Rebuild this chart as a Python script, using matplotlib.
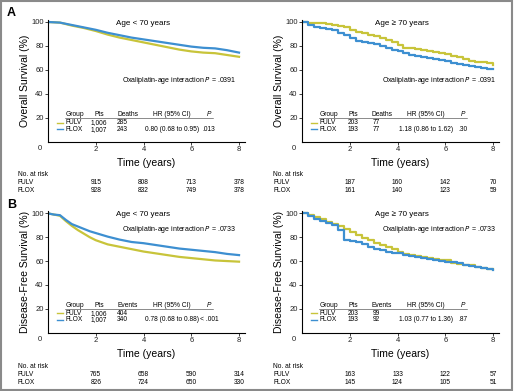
import matplotlib
matplotlib.use("Agg")
import matplotlib.pyplot as plt
from matplotlib.patches import Rectangle
import matplotlib.transforms as mtransforms

plt.rcParams['font.family'] = ['Liberation Sans Narrow', 'Liberation Sans', 'DejaVu Sans']

# ---- data ----
# A, age < 70 : overall survival
t_a1 = [0, 0.5, 1.0, 1.5, 2.0, 2.5, 3.0, 3.5, 4.0, 4.5, 5.0, 5.5, 6.0, 6.5, 7.0, 7.5, 8.0]
fulv_a1 = [100, 99.5, 97, 95, 92.5, 89.5, 87, 85, 83, 81, 79, 77, 75.5, 74.5, 74, 72.5, 71]
flox_a1 = [100, 99.5, 97.5, 95.5, 93.5, 91, 89, 87, 85.5, 84, 82.5, 81, 79.5, 78.5, 78, 76.5, 74.5]

# A, age >= 70 : overall survival
t_a2 = [0, 0.25, 0.5, 0.75, 1.0, 1.25, 1.5, 1.75, 2.0, 2.25, 2.5, 2.75, 3.0, 3.25, 3.5, 3.75,
        4.0, 4.25, 4.5, 4.75, 5.0, 5.25, 5.5, 5.75, 6.0, 6.25, 6.5, 6.75, 7.0, 7.25, 7.5, 7.75, 8.0]
fulv_a2 = [100, 99.5, 99.5, 99, 98.5, 97.5, 97, 95.5, 93.5, 92, 90.5, 89, 88, 87, 85, 83,
           80.5, 78.5, 78, 77.5, 77, 76, 75, 74, 73, 71.5, 70.5, 69, 67.5, 67, 66.5, 65.5, 64.5]
flox_a2 = [100, 97.5, 96, 95, 94.5, 93, 91, 89, 86.5, 84.5, 83.5, 82.5, 81.5, 80, 78.5, 77,
           75.5, 74, 72.5, 72, 71, 70, 69.5, 68.5, 67.5, 66, 65, 64.5, 63.5, 62.5, 61.5, 61, 60.5]

# B, age < 70 : disease-free survival
t_b1 = [0, 0.25, 0.5, 0.75, 1.0, 1.25, 1.5, 1.75, 2.0, 2.5, 3.0, 3.5, 4.0, 4.5, 5.0, 5.5, 6.0, 6.5, 7.0, 7.5, 8.0]
fulv_b1 = [100, 99, 98, 93.5, 89.5, 86, 83, 80, 77.5, 74, 72, 70, 68, 66.5, 65, 63.5, 62.5, 61.5, 60.5, 60, 59.5]
flox_b1 = [100, 99, 98.5, 94.5, 91, 89, 87, 85, 83.5, 80.5, 78, 76, 75, 73.5, 72, 70.5, 69.5, 68.5, 67.5, 66, 65]

# B, age >= 70 : disease-free survival
t_b2 = t_a2
fulv_b2 = [100, 98.5, 97, 95, 93, 91, 89, 87, 84.5, 82, 79.5, 77.5, 75.5, 73.5, 72, 70,
           68, 66, 65, 64, 63, 62.5, 61.5, 61, 60.5, 58.5, 57.5, 57, 56.5, 55, 54, 53.5, 53]
flox_b2 = [100, 97.5, 95.5, 94, 92, 90, 86, 78, 77, 76, 74, 72, 70, 69, 67.5, 67,
           66.5, 65.5, 64.5, 63.5, 62.5, 61.5, 60.5, 60, 59.5, 59, 58, 57, 56, 55, 54, 53, 52.5]

groups = ['FULV', 'FLOX']
pts = [['1,006', '1,007'], ['203', '193'], ['1,006', '1,007'], ['203', '193']]
events = [['285', '243'], ['77', '77'], ['404', '340'], ['99', '92']]
event_name = ['Deaths', 'Deaths', 'Events', 'Events']
hr = ['0.80 (0.68 to 0.95)', '1.18 (0.86 to 1.62)', '0.78 (0.68 to 0.88)', '1.03 (0.77 to 1.36)']
pval = ['.013', '.30', '< .001', '.87']
interaction = ['.0391', '.0391', '.0733', '.0733']
age_title = ['Age < 70 years', 'Age \u2265 70 years', 'Age < 70 years', 'Age \u2265 70 years']
ylabels = ['Overall Survival (%)', 'Overall Survival (%)',
           'Disease-Free Survival (%)', 'Disease-Free Survival (%)']
risk_times = [2, 4, 6, 8]
risk_fulv = [[915, 808, 713, 378], [187, 160, 142, 70], [765, 658, 590, 314], [163, 133, 122, 57]]
risk_flox = [[928, 832, 749, 378], [161, 140, 123, 59], [826, 724, 650, 330], [145, 124, 105, 51]]

curves = [(t_a1, fulv_a1, flox_a1, False), (t_a2, fulv_a2, flox_a2, True),
          (t_b1, fulv_b1, flox_b1, False), (t_b2, fulv_b2, flox_b2, True)]

c_fulv = '#c8c43a'
c_flox = '#3d8fd1'

W, H = 514, 391
fig = plt.figure(figsize=(W / 100, H / 100), dpi=100)

# axes boxes in pixels: left, x-axis y, top
boxes = [(48, 142, 19.6), (302, 142, 19.6), (48, 332.6, 211), (302, 332.6, 211)]
risk_y = [(174, 182, 190), (174, 182, 190), (367, 374.5, 382), (367, 374.5, 382)]
risk_x0 = [18, 273, 18, 273]

for i, (t, fu, fl, stepped) in enumerate(curves):
    x0, yb, yt = boxes[i]
    ax = fig.add_axes([x0 / W, (H - yb) / H, 197 / W, (yb - yt) / H])
    ax.set_xlim(0, 8.25)
    ax.set_ylim(0, 102)
    for s in ['top', 'right']:
        ax.spines[s].set_visible(False)
    for s in ['left', 'bottom']:
        ax.spines[s].set_linewidth(0.8)
    ax.set_xticks([2, 4, 6, 8])
    ax.set_yticks([20, 40, 60, 80, 100])
    ax.tick_params(length=2.2, width=0.6, pad=1, labelsize=5.5, colors='#222222')

    if stepped:
        ax.step(t, fu, where='post', color=c_fulv, lw=1.6)
        ax.step(t, fl, where='post', color=c_flox, lw=1.6)
    else:
        ax.plot(t, fu, color=c_fulv, lw=1.6)
        ax.plot(t, fl, color=c_flox, lw=1.6)

    ax.annotate('0', xy=(0, 0), xycoords='data', xytext=(-8, -7), textcoords='offset pixels',
                ha='center', va='center', fontsize=5.5, color='#222222')
    ax.annotate(ylabels[i], xy=(0, 0.5), xycoords='axes fraction', xytext=(-23, 0),
                textcoords='offset pixels', rotation=90, ha='center', va='center', fontsize=7.5)
    ax.annotate('Time (years)', xy=(0.5, 0), xycoords='axes fraction', xytext=(0, -21),
                textcoords='offset pixels', ha='center', va='center', fontsize=7.5)

    ax.text(3.97 if i % 2 == 0 else 4.17, 99, age_title[i], ha='center', va='center', fontsize=5.8)
    iy = 51 if i < 2 else 86.8
    ix = 5.5 if i % 2 == 0 else 5.75
    ax.text(ix, iy, 'Oxaliplatin-age interaction $\\mathit{P}$ = ' + interaction[i],
            ha='center', va='center', fontsize=5)

    # inset table
    fs = 4.8
    ax.text(0.73, 22.5, 'Group', ha='left', va='center', fontsize=fs)
    ax.text(2.13, 22.5, 'Pts', ha='center', va='center', fontsize=fs)
    ax.text(2.89, 22.5, event_name[i], ha='left', va='center', fontsize=fs)
    ax.text(5.2, 22.5, 'HR (95% CI)', ha='center', va='center', fontsize=fs)
    ax.text(6.74, 22.5, 'P', ha='center', va='center', fontsize=fs, style='italic')
    ax.plot([0.73, 6.9], [19.8, 19.8], color='#333333', lw=0.4)
    for k, (g, yy, col) in enumerate(zip(groups, [16.2, 10.6], [c_fulv, c_flox])):
        ax.plot([0.36, 0.64], [yy, yy], color=col, lw=1.0)
        ax.text(0.73, yy, g, ha='left', va='center', fontsize=fs)
        ax.text(2.13, yy, pts[i][k], ha='center', va='center', fontsize=fs)
        ax.text(3.1, yy, events[i][k], ha='center', va='center', fontsize=fs)
    ax.text(5.2, 10.6, hr[i], ha='center', va='center', fontsize=fs)
    ax.text(6.74, 10.6, pval[i], ha='center', va='center', fontsize=fs)

    # numbers at risk
    tr = mtransforms.blended_transform_factory(ax.transData, fig.transFigure)
    ya, yf, yl = [(H - v) / H for v in risk_y[i]]
    fig.text(risk_x0[i] / W, ya, 'No. at risk', ha='left', va='center', fontsize=4.8)
    fig.text(risk_x0[i] / W, yf, 'FULV', ha='left', va='center', fontsize=4.8)
    fig.text(risk_x0[i] / W, yl, 'FLOX', ha='left', va='center', fontsize=4.8)
    for tt, a, b in zip(risk_times, risk_fulv[i], risk_flox[i]):
        ax.text(tt, yf, str(a), transform=tr, ha='center', va='center', fontsize=4.8)
        ax.text(tt, yl, str(b), transform=tr, ha='center', va='center', fontsize=4.8)

fig.text(11.5 / W, (H - 12.5) / H, 'A', fontsize=9, fontweight='bold', ha='center', va='center')
fig.text(11.5 / W, (H - 205) / H, 'B', fontsize=9, fontweight='bold', ha='center', va='center')

fig.patches.append(Rectangle((0.002, 0.003), 0.994, 0.994, transform=fig.transFigure,
                             fill=False, edgecolor='#8a8a8a', lw=1.5))

fig.savefig('out.png', dpi=100)
